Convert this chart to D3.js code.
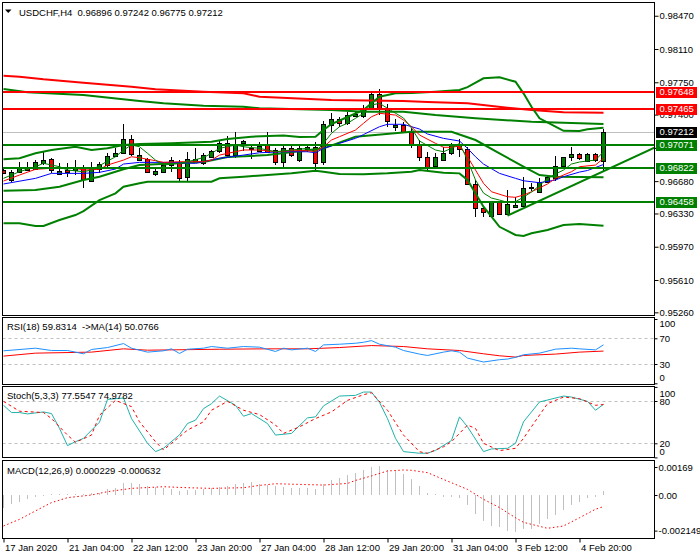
<!DOCTYPE html>
<html>
<head>
<meta charset="utf-8">
<script src="https://cdn.jsdelivr.net/npm/d3@7"></script>
<style>
body { margin: 0; background: #ffffff; }
svg text { font-family: "Liberation Sans", Arial, sans-serif; font-size: 9.5px; }
</style>
</head>
<body>
<script>
// #region DATA
var opens = [
    0.96805, 0.96699, 0.96782, 0.96836, 0.96808, 0.96879, 0.96916, 0.96757, 0.96805, 0.96793,
    0.96819, 0.96684, 0.96808, 0.96854, 0.96944, 0.96981, 0.97132, 0.96919, 0.96916, 0.96764,
    0.96782, 0.96854, 0.96890, 0.96721, 0.96897, 0.96879, 0.96948, 0.96998, 0.97089, 0.96968,
    0.97087, 0.97031, 0.97009, 0.97071, 0.97016, 0.96883, 0.97035, 0.96901, 0.97027, 0.97052,
    0.96883, 0.97287, 0.97349, 0.97306, 0.97385, 0.97377, 0.97468, 0.97623, 0.97468, 0.97265,
    0.97287, 0.97215, 0.97071, 0.96944, 0.96836, 0.96916, 0.96981, 0.97071, 0.97024, 0.96649,
    0.96386, 0.96295, 0.96451, 0.96321, 0.96403, 0.96414, 0.96605, 0.96565, 0.96673, 0.96721,
    0.96844, 0.96938, 0.96970, 0.96897, 0.96970, 0.96896
];
var highs = [
    0.96822, 0.96800, 0.96890, 0.96890, 0.96908, 0.96990, 0.96930, 0.96873, 0.96876, 0.96908,
    0.96854, 0.96890, 0.96890, 0.96981, 0.97035, 0.97298, 0.97179, 0.97035, 0.96930, 0.96819,
    0.96890, 0.96944, 0.96908, 0.96998, 0.97035, 0.96981, 0.97016, 0.97114, 0.97168, 0.97213,
    0.97125, 0.97071, 0.97103, 0.97213, 0.97038, 0.97071, 0.97071, 0.97060, 0.97063, 0.97106,
    0.97334, 0.97414, 0.97377, 0.97431, 0.97431, 0.97504, 0.97630, 0.97674, 0.97514, 0.97352,
    0.97323, 0.97251, 0.97125, 0.96998, 0.96981, 0.97046, 0.97089, 0.97132, 0.97046, 0.96692,
    0.96403, 0.96457, 0.96457, 0.96584, 0.96511, 0.96721, 0.96656, 0.96710, 0.96746, 0.96952,
    0.96944, 0.97046, 0.96987, 0.96981, 0.96987, 0.97242
];
var lows = [
    0.96757, 0.96673, 0.96764, 0.96789, 0.96800, 0.96854, 0.96764, 0.96746, 0.96724, 0.96746,
    0.96611, 0.96670, 0.96771, 0.96836, 0.96938, 0.96973, 0.96952, 0.96908, 0.96764, 0.96735,
    0.96771, 0.96782, 0.96673, 0.96684, 0.96873, 0.96854, 0.96930, 0.96984, 0.96927, 0.96927,
    0.97009, 0.96916, 0.96995, 0.96990, 0.96854, 0.96819, 0.96944, 0.96890, 0.96998, 0.96793,
    0.96854, 0.97215, 0.97269, 0.97287, 0.97377, 0.97368, 0.97468, 0.97395, 0.97269, 0.97222,
    0.97213, 0.97035, 0.96901, 0.96800, 0.96829, 0.96908, 0.96963, 0.96938, 0.96638, 0.96295,
    0.96288, 0.96288, 0.96313, 0.96313, 0.96386, 0.96403, 0.96576, 0.96554, 0.96663, 0.96684,
    0.96836, 0.96901, 0.96908, 0.96890, 0.96890, 0.96775
];
var closes = [
    0.96773, 0.96782, 0.96836, 0.96808, 0.96883, 0.96908, 0.96793, 0.96789, 0.96784, 0.96819,
    0.96697, 0.96836, 0.96865, 0.96952, 0.96981, 0.97132, 0.96970, 0.96968, 0.96775, 0.96793,
    0.96854, 0.96908, 0.96721, 0.96916, 0.96916, 0.96963, 0.97009, 0.97089, 0.96963, 0.97087,
    0.97109, 0.97041, 0.97063, 0.96998, 0.96883, 0.97035, 0.96963, 0.97035, 0.97052, 0.96883,
    0.97295, 0.97349, 0.97306, 0.97395, 0.97403, 0.97468, 0.97623, 0.97468, 0.97323, 0.97287,
    0.97215, 0.97071, 0.96944, 0.96836, 0.96938, 0.96987, 0.97071, 0.97024, 0.96649, 0.96386,
    0.96342, 0.96451, 0.96321, 0.96429, 0.96421, 0.96609, 0.96619, 0.96673, 0.96728, 0.96847,
    0.96938, 0.96970, 0.96927, 0.96970, 0.96908, 0.97212
];

var priceTicks = [0.98470, 0.98110, 0.97750, 0.97400, 0.97040, 0.96680, 0.96330, 0.95970, 0.95610, 0.95260];
var xTickBars = [0, 8, 16, 24, 32, 40, 48, 56, 64, 72];
var xTickLabels = ["17 Jan 2020", "21 Jan 04:00", "22 Jan 12:00", "23 Jan 20:00", "27 Jan 04:00",
    "28 Jan 12:00", "29 Jan 20:00", "31 Jan 04:00", "3 Feb 12:00", "4 Feb 20:00"];

var redLevels = [0.97648, 0.97465];
var greenLevels = [0.97071, 0.96822, 0.96458];
var lastPrice = 0.97212;
var trendAnchors = [[63, 0.96306], [75, 0.96787]];

// thin moving averages [bar, price]
var maFast = [[0,0.96710],[2,0.96782],[4,0.96836],[5,0.96873],[7,0.96836],[8,0.96800],[10,0.96782],[11,0.96800],
    [14,0.96944],[15,0.97017],[16,0.97071],[17,0.97052],[18,0.96981],[19,0.96908],[20,0.96854],[22,0.96873],
    [23,0.96890],[25,0.96935],[26,0.96981],[27,0.97035],[29,0.97071],[30,0.97052],[32,0.97035],[34,0.96998],
    [36,0.97017],[38,0.97035],[39,0.96998],[40,0.97089],[41,0.97197],[42,0.97269],[43,0.97306],[44,0.97360],
    [45,0.97414],[46,0.97504],[47,0.97522],[48,0.97468],[50,0.97363],[51,0.97255],[52,0.97114],[54,0.97017],
    [55,0.96998],[56,0.97035],[57,0.97089],[58,0.96908],[59,0.96692],[60,0.96551],[61,0.96497],[62,0.96475],
    [63,0.96451],[64,0.96457],[65,0.96508],[66,0.96562],[67,0.96632],[68,0.96708],[69,0.96757],[70,0.96800],
    [71,0.96865],[72,0.96887],[73,0.96898],[74,0.96908],[75,0.96998]];
var maMid = [[0,0.96681],[2,0.96746],[4,0.96808],[6,0.96819],[9,0.96819],[10,0.96800],[12,0.96808],[13,0.96854],
    [15,0.96908],[16,0.96944],[17,0.96933],[19,0.96901],[20,0.96883],[22,0.96890],[25,0.96890],[26,0.96908],
    [27,0.96962],[30,0.97017],[32,0.97017],[34,0.96998],[36,0.97009],[38,0.97009],[39,0.96998],[40,0.97052],
    [41,0.97125],[42,0.97161],[44,0.97233],[45,0.97306],[46,0.97377],[47,0.97414],[49,0.97395],[50,0.97341],
    [51,0.97269],[52,0.97179],[54,0.97089],[55,0.97046],[56,0.97046],[57,0.97060],[58,0.96944],[59,0.96800],
    [60,0.96656],[61,0.96565],[63,0.96511],[64,0.96505],[65,0.96530],[66,0.96565],[68,0.96649],[69,0.96710],
    [71,0.96782],[72,0.96836],[74,0.96854],[75,0.96927]];
var maSlow = [[0,0.96649],[4,0.96710],[6,0.96764],[10,0.96764],[12,0.96775],[14,0.96811],[15,0.96865],[17,0.96883],
    [21,0.96883],[24,0.96873],[25,0.96890],[27,0.96927],[30,0.96962],[32,0.96987],[35,0.96998],[38,0.96998],
    [39,0.96987],[40,0.97035],[42,0.97089],[44,0.97143],[45,0.97184],[47,0.97269],[48,0.97295],[50,0.97295],
    [52,0.97244],[53,0.97190],[55,0.97143],[57,0.97114],[58,0.97035],[59,0.96944],[60,0.96865],[62,0.96764],
    [64,0.96710],[65,0.96684],[67,0.96663],[69,0.96692],[70,0.96728],[72,0.96778],[73,0.96795],[75,0.96860]];

// thick band lines [bar, price]
var bandUpper = [[0,0.96916],[2,0.96927],[4,0.96981],[6,0.97017],[9,0.97052],[11,0.97017],[13,0.97035],[15,0.97071],
    [17,0.97082],[21,0.97089],[26,0.97106],[28,0.97136],[31,0.97161],[35,0.97174],[37,0.97157],[39,0.97161],
    [40,0.97233],[41,0.97298],[43,0.97374],[45,0.97450],[46,0.97522],[47,0.97593],[49,0.97630],[51,0.97634],
    [54,0.97648],[57,0.97666],[58,0.97698],[60,0.97793],[62,0.97803],[64,0.97756],[65,0.97630],[66,0.97485],
    [67,0.97360],[69,0.97269],[70,0.97225],[72,0.97222],[73,0.97241],[75,0.97258]];
var bandLower = [[0,0.96223],[2,0.96223],[4,0.96194],[5,0.96194],[7,0.96259],[9,0.96313],[10,0.96356],[12,0.96475],
    [14,0.96548],[15,0.96619],[17,0.96656],[18,0.96673],[26,0.96673],[27,0.96710],[30,0.96728],[33,0.96746],
    [36,0.96764],[39,0.96793],[40,0.96782],[42,0.96757],[45,0.96754],[48,0.96764],[51,0.96782],[52,0.96800],
    [55,0.96771],[57,0.96764],[58,0.96692],[59,0.96548],[60,0.96403],[61,0.96295],[62,0.96186],[64,0.96097],
    [65,0.96086],[66,0.96115],[68,0.96151],[70,0.96205],[72,0.96216],[75,0.96198]];
var bandInner = [[0,0.96576],[4,0.96584],[7,0.96619],[10,0.96692],[12,0.96728],[15,0.96808],[17,0.96854],[21,0.96870],
    [25,0.96887],[28,0.96941],[33,0.96962],[40,0.97035],[44,0.97161],[51,0.97215],[56,0.97215],[59,0.97125],
    [62,0.96981],[65,0.96836],[67,0.96746],[69,0.96728],[75,0.96721]];
var longGreen = [[0,0.97677],[3,0.97641],[10,0.97612],[17,0.97547],[20,0.97522],[25,0.97496],[30,0.97485],[32,0.97468],
    [41,0.97450],[45,0.97431],[50,0.97431],[54,0.97395],[59,0.97360],[66,0.97323],[75,0.97298]];
var longRed = [[0,0.97821],[2,0.97810],[5,0.97782],[10,0.97745],[16,0.97702],[19,0.97674],[25,0.97648],[30,0.97630],
    [32,0.97593],[41,0.97558],[50,0.97547],[53,0.97536],[58,0.97522],[63,0.97474],[66,0.97450],[70,0.97425],[75,0.97420]];

// RSI(18) and its MA(14)
var rsiLine = [[0,50.5],[4,54.6],[6,51],[8,51],[10,45.9],[11,52.6],[13,55.6],[15,61.8],[16,54.6],[18,48.5],[20,50.5],
    [21,53.6],[22,46.4],[23,53],[25,54.6],[26,57.2],[28,54.6],[30,57.2],[32,56.2],[34,49.5],[35,54.6],[36,52],
    [38,54.6],[39,49.5],[40,59.7],[42,60.8],[44,62.3],[45,63.8],[46,66.4],[47,60.8],[49,56.2],[50,51],[52,45.4],
    [53,43.3],[55,48.5],[56,50.5],[57,48.5],[58,39.2],[60,33.1],[62,36.7],[63,37.7],[64,40.3],[65,44.4],[67,46.9],
    [69,53.1],[71,54.6],[72,53.6],[74,52],[75,59.8]];
var rsiMa = [[0,42.3],[4,46.9],[11,48.5],[15,53.6],[18,51.5],[27,53],[33,53.6],[38,53.6],[42,55.6],[46,58.7],[50,57.2],
    [53,53.6],[57,51],[60,45.9],[62,42.8],[64,40.8],[65,43.3],[69,45.4],[72,48.5],[75,50.1]];
var rsiTicks = [0, 30, 70, 100];
var rsiLevels = [30, 70];

// Stochastic(5,3,3)
var stochMain = [[0,73.9],[1,63.6],[2,63.6],[3,61.7],[5,64.5],[6,62.2],[7,41.1],[8,16.7],[9,22.3],[10,27],[12,50],
    [13,82.3],[15,84.2],[16,55.1],[18,20],[19,8.2],[20,12.9],[22,32],[23,48.1],[24,52.8],[25,69.2],[26,76.2],[27,87],
    [29,73.9],[30,58.4],[31,62.2],[33,48],[34,31.7],[36,34],[38,56.1],[39,57.5],[40,73],[42,87],[44,88],[45,92.7],
    [46,92.7],[47,78],[48,55],[49,27],[50,8.2],[52,5.9],[53,5.9],[54,10],[56,24],[57,57.5],[58,43.4],[60,8.2],[61,12],
    [63,12.9],[64,20],[65,50.5],[67,78.6],[70,87],[71,85.6],[73,79.5],[74,66.9],[75,75.3]];
var stochSignal = [[0,79.5],[2,65.5],[5,63.6],[6,55.1],[8,31.7],[9,21.4],[11,31.7],[12,59.8],[14,80.9],[16,72],[17,50.5],
    [19,22.3],[20,10.6],[21,20],[23,38.7],[25,50.5],[26,66.9],[28,79.5],[30,66.9],[32,60.8],[34,46],[35,34],[37,43.4],
    [39,55.1],[41,64.5],[43,80.9],[45,88.9],[46,91.7],[48,66.9],[50,31.7],[52,8],[53,5.9],[55,15],[56,22.3],[58,45.8],
    [59,41.1],[60,20],[62,9.6],[64,12.9],[65,27],[67,60],[68,76.2],[70,85.6],[72,83.3],[74,73.9],[75,75]];
var stochTicks = [0, 20, 80, 100];
var stochLevels = [20, 80];

// MACD(12,26,9)
var macdHist = [
    -0.00076, -0.00056, -0.0004, -0.00022, -0.0001, -0.00004, 0.00004, 0.00006, 0.00008, 0.00006,
    0.00008, 0.0001, 0.00014, 0.00034, 0.00044, 0.0007, 0.0007, 0.00064, 0.00054, 0.00048,
    0.00044, 0.00034, 0.00024, 0.00028, 0.00032, 0.00036, 0.00044, 0.00048, 0.00052, 0.00064,
    0.00074, 0.00076, 0.00064, 0.0006, 0.00052, 0.00048, 0.00044, 0.00044, 0.0004, 0.00036,
    0.00064, 0.00088, 0.001, 0.0012, 0.00133, 0.00153, 0.00169, 0.00173, 0.00153, 0.00143,
    0.00127, 0.00094, 0.00054, 0.00014, 0.00004, -0.00012, -0.00012, -0.00016, -0.0006, -0.00115,
    -0.00155, -0.00185, -0.00191, -0.00215, -0.00225, -0.00205, -0.00205, -0.00175, -0.00145, -0.0012,
    -0.0009, -0.0006, -0.0004, -0.0002, -0.0001, 0.00023
];
var macdSignal = [[0,-0.00187],[2,-0.00147],[4,-0.00096],[6,-0.00046],[8,-0.00016],[11,0],[13,0.0002],[16,0.0004],
    [20,0.0005],[23,0.00044],[26,0.0004],[30,0.00044],[32,0.00058],[34,0.00068],[37,0.00064],[40,0.0006],[43,0.0007],
    [44,0.00088],[46,0.00115],[48,0.00145],[50,0.00151],[51,0.00149],[53,0.00135],[55,0.00094],[58,0.00034],
    [60,-0.00026],[62,-0.00076],[64,-0.00137],[65,-0.00165],[68,-0.00201],[70,-0.00187],[72,-0.00137],[74,-0.00086],[75,-0.0007]];
var macdTicks = [-0.002149, 0, 0.00169];
var macdTickLabels = ["-0.002149", "0.00", "0.00169"];
// #endregion

// #region SETUP
var left = 2.5, right = 654.5;
var panels = {
    main: [2.5, 315.5],
    rsi: [317.5, 384.5],
    stoch: [386.5, 457.5],
    macd: [460.5, 538.5]
};

var svg = d3.select("body")
    .append("svg")
    .attr("width", 700)
    .attr("height", 560);

var defs = svg.append("defs");
Object.keys(panels).forEach(function(k) {
    defs.append("clipPath")
        .attr("id", "clip-" + k)
        .append("rect")
            .attr("x", left + 0.5)
            .attr("y", panels[k][0] + 0.5)
            .attr("width", right - left - 1)
            .attr("height", panels[k][1] - panels[k][0] - 1);
});

var x = d3.scaleLinear().domain([0, 75]).range([3.5, 603.5]);
var yMain = d3.scaleLinear().domain([0.95242, 0.98597]).range([314, 4]);
var yRsi = d3.scaleLinear().domain([0, 100]).range([383.3, 319]);
var yStoch = d3.scaleLinear().domain([0, 100]).range([457.4, 386.9]);
var yMacd = d3.scaleLinear().domain([-0.002595, 0.002052]).range([538, 461]);

function lineFor(yScale) {
    return d3.line()
        .x(d => x(d[0]))
        .y(d => yScale(d[1]));
}
// #endregion

// #region MAIN PANEL
var main = svg.append("g").attr("clip-path", "url(#clip-main)");

// current price line
main.append("line")
    .attr("x1", left).attr("x2", right)
    .attr("y1", Math.round(yMain(lastPrice)) + 0.5)
    .attr("y2", Math.round(yMain(lastPrice)) + 0.5)
    .attr("stroke", "#c0c0c0");

// candles
var bars = main.append("g")
    .selectAll("g")
    .data(d3.range(opens.length))
    .enter()
    .append("g");

bars.append("line")
    .attr("x1", i => x(i)).attr("x2", i => x(i))
    .attr("y1", i => yMain(highs[i]))
    .attr("y2", i => yMain(lows[i]))
    .attr("stroke", "#000")
    .attr("shape-rendering", "crispEdges");

bars.append("rect")
    .attr("x", i => x(i) - 2)
    .attr("y", i => Math.round(yMain(Math.max(opens[i], closes[i]))) + 0.5)
    .attr("width", 4)
    .attr("height", i => Math.max(1, Math.round(Math.abs(yMain(opens[i]) - yMain(closes[i])))))
    .attr("fill", i => closes[i] >= opens[i] ? "#008000" : "#ff0000")
    .attr("stroke", "#000")
    .attr("shape-rendering", "crispEdges");

// long lines and bands
main.append("path").datum(longRed)
    .attr("d", lineFor(yMain)).attr("fill", "none")
    .attr("stroke", "#ff0000").attr("stroke-width", 2);

[longGreen, bandUpper, bandLower, bandInner].forEach(function(s) {
    main.append("path").datum(s)
        .attr("d", lineFor(yMain)).attr("fill", "none")
        .attr("stroke", "#008000").attr("stroke-width", 2);
});

// thin moving averages
[[maSlow, "#0000ff"], [maMid, "#ff0000"], [maFast, "#008000"]].forEach(function(s) {
    main.append("path").datum(s[0])
        .attr("d", lineFor(yMain)).attr("fill", "none")
        .attr("stroke", s[1]).attr("stroke-width", 1);
});

// horizontal levels
main.selectAll(".lvl-red")
    .data(redLevels)
    .enter()
    .append("line")
        .attr("x1", left).attr("x2", right)
        .attr("y1", d => Math.round(yMain(d)))
        .attr("y2", d => Math.round(yMain(d)))
        .attr("stroke", "#ff0000").attr("stroke-width", 2);

main.selectAll(".lvl-green")
    .data(greenLevels)
    .enter()
    .append("line")
        .attr("x1", left).attr("x2", right)
        .attr("y1", d => Math.round(yMain(d)))
        .attr("y2", d => Math.round(yMain(d)))
        .attr("stroke", "#008000").attr("stroke-width", 2);

// trend line ray
var trend = d3.scaleLinear()
    .domain([trendAnchors[0][0], trendAnchors[1][0]])
    .range([trendAnchors[0][1], trendAnchors[1][1]]);
var trendEnd = x.invert(right);
main.append("path")
    .datum([[trendAnchors[0][0], trendAnchors[0][1]], [trendEnd, trend(trendEnd)]])
    .attr("d", lineFor(yMain)).attr("fill", "none")
    .attr("stroke", "#008000").attr("stroke-width", 2);

// price axis
var priceAxis = svg.append("g")
    .attr("transform", "translate(" + right + ",0)")
    .call(d3.axisRight(yMain).tickValues(priceTicks).tickSize(4).tickPadding(1).tickFormat(d3.format(".5f")));
priceAxis.select(".domain").remove();
priceAxis.selectAll("text").attr("font-family", null).attr("font-size", null).attr("fill", "#000");

// highlighted price labels
var tags = [];
redLevels.forEach(v => tags.push({v: v, bg: "#ff0000"}));
tags.push({v: lastPrice, bg: "#000000"});
greenLevels.forEach(v => tags.push({v: v, bg: "#008000"}));

var tagG = svg.append("g").selectAll("g").data(tags).enter().append("g");
tagG.append("rect")
    .attr("x", 656)
    .attr("y", d => Math.round(yMain(d.v)) - 5)
    .attr("width", 41)
    .attr("height", 11)
    .attr("fill", d => d.bg);
tagG.append("text")
    .attr("x", 659.5)
    .attr("y", d => yMain(d.v))
    .attr("dy", "0.34em")
    .attr("fill", "#fff")
    .text(d => d3.format(".5f")(d.v));

// header
svg.append("path")
    .attr("d", "M5,9.5 L11.5,9.5 L8.25,13 Z")
    .attr("fill", "#000");
svg.append("text")
    .attr("x", 19)
    .attr("y", 15.5)
    .style("white-space", "pre")
    .text("USDCHF,H4  0.96896 0.97242 0.96775 0.97212");
// #endregion

// #region RSI
var rsiG = svg.append("g").attr("clip-path", "url(#clip-rsi)");
rsiG.selectAll("line")
    .data(rsiLevels)
    .enter()
    .append("line")
        .attr("x1", left).attr("x2", right)
        .attr("y1", d => Math.round(yRsi(d)) + 0.5)
        .attr("y2", d => Math.round(yRsi(d)) + 0.5)
        .attr("stroke", "#c0c0c0")
        .attr("stroke-dasharray", "3,3");
rsiG.append("path").datum(rsiMa)
    .attr("d", lineFor(yRsi)).attr("fill", "none").attr("stroke", "#ff0000");
rsiG.append("path").datum(rsiLine)
    .attr("d", lineFor(yRsi)).attr("fill", "none").attr("stroke", "#1e90ff");

var rsiAxis = svg.append("g")
    .attr("transform", "translate(" + right + ",0)")
    .call(d3.axisRight(yRsi).tickValues(rsiTicks).tickSize(3).tickPadding(2));
rsiAxis.select(".domain").remove();
rsiAxis.selectAll("text").attr("font-family", null).attr("font-size", null).attr("fill", "#000")
    .attr("dy", d => d == 100 ? "0.77em" : (d == 0 ? "-0.27em" : "0.32em"));

svg.append("text")
    .attr("x", 7)
    .attr("y", 330)
    .style("white-space", "pre")
    .text("RSI(18) 59.8314  ->MA(14) 50.0766");
// #endregion

// #region STOCHASTIC
var stG = svg.append("g").attr("clip-path", "url(#clip-stoch)");
stG.selectAll("line")
    .data(stochLevels)
    .enter()
    .append("line")
        .attr("x1", left).attr("x2", right)
        .attr("y1", d => Math.round(yStoch(d)) + 0.5)
        .attr("y2", d => Math.round(yStoch(d)) + 0.5)
        .attr("stroke", "#c0c0c0")
        .attr("stroke-dasharray", "3,3");
stG.append("path").datum(stochMain)
    .attr("d", lineFor(yStoch)).attr("fill", "none").attr("stroke", "#20b2aa");
stG.append("path").datum(stochSignal)
    .attr("d", lineFor(yStoch)).attr("fill", "none").attr("stroke", "#ff0000")
    .attr("stroke-dasharray", "3,3");

var stAxis = svg.append("g")
    .attr("transform", "translate(" + right + ",0)")
    .call(d3.axisRight(yStoch).tickValues(stochTicks).tickSize(3).tickPadding(2));
stAxis.select(".domain").remove();
stAxis.selectAll("text").attr("font-family", null).attr("font-size", null).attr("fill", "#000")
    .attr("dy", d => d == 100 ? "0.99em" : (d == 0 ? "-0.32em" : "0.32em"));

svg.append("text")
    .attr("x", 7)
    .attr("y", 399)
    .text("Stoch(5,3,3) 77.5547 74.9782");
// #endregion

// #region MACD
var mG = svg.append("g").attr("clip-path", "url(#clip-macd)");
mG.selectAll("line")
    .data(macdHist)
    .enter()
    .append("line")
        .attr("x1", (d, i) => x(i)).attr("x2", (d, i) => x(i))
        .attr("y1", yMacd(0))
        .attr("y2", d => yMacd(d))
        .attr("stroke", "#c0c0c0")
        .attr("shape-rendering", "crispEdges");
mG.append("path").datum(macdSignal)
    .attr("d", lineFor(yMacd)).attr("fill", "none").attr("stroke", "#ff0000")
    .attr("stroke-dasharray", "1.5,2.5");

var mAxis = svg.append("g")
    .attr("transform", "translate(" + right + ",0)")
    .call(d3.axisRight(yMacd).tickValues(macdTicks).tickSize(3).tickPadding(1)
        .tickFormat((d, i) => macdTickLabels[i]));
mAxis.select(".domain").remove();
mAxis.selectAll("text").attr("font-family", null).attr("font-size", null).attr("fill", "#000")
    .attr("font-size", d => d < 0 ? "9px" : null);

svg.append("text")
    .attr("x", 7)
    .attr("y", 473.5)
    .text("MACD(12,26,9) 0.000229 -0.000632");
// #endregion

// #region TIME AXIS
var tAxis = svg.append("g")
    .attr("transform", "translate(0," + panels.macd[1] + ")")
    .call(d3.axisBottom(x).tickValues(xTickBars).tickSize(4).tickPadding(2)
        .tickFormat((d, i) => xTickLabels[i]));
tAxis.select(".domain").remove();
tAxis.selectAll("text").attr("font-family", null).attr("font-size", null).attr("fill", "#000")
    .attr("text-anchor", "start").attr("x", 1);
// #endregion

// #region BORDERS
Object.keys(panels).forEach(function(k) {
    svg.append("rect")
        .attr("x", left)
        .attr("y", panels[k][0])
        .attr("width", right - left)
        .attr("height", panels[k][1] - panels[k][0])
        .attr("fill", "none")
        .attr("stroke", "#000");
});
// #endregion
</script>
</body>
</html>
